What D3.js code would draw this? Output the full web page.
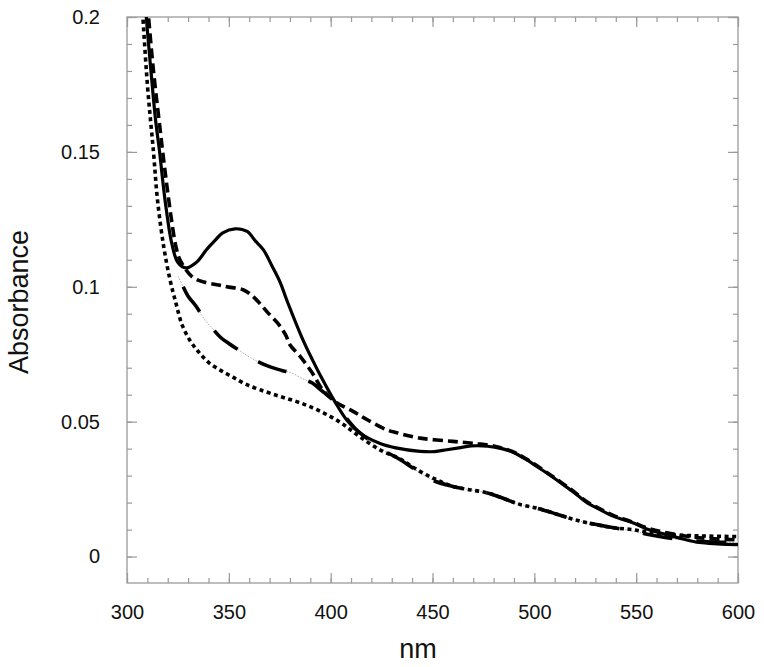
<!DOCTYPE html>
<html>
<head>
<meta charset="utf-8">
<script src="https://cdn.jsdelivr.net/npm/d3@7"></script>
<style>
  body { margin: 0; background: #fff; }
  svg { display: block; font-family: "Liberation Sans", Arial, Helvetica, sans-serif; }
</style>
</head>
<body>
<svg id="chart"></svg>
<script>
// wavelengths (nm) and absorbance
const solidNm = [308, 310, 312, 314, 316, 318.7, 322, 325, 329, 334, 339, 343, 347, 353, 359, 363, 367, 371, 375, 379, 386, 391, 396, 402, 408, 414, 424, 432, 444, 451, 457, 463, 469, 477, 484, 490, 496, 501, 507, 513, 519, 526, 532, 539, 548, 556, 565, 573, 581, 590, 600];
const solidAbs = [0.215, 0.195, 0.178, 0.162, 0.150, 0.132, 0.116, 0.109, 0.107, 0.109, 0.1137, 0.117, 0.120, 0.1215, 0.1205, 0.117, 0.1137, 0.108, 0.102, 0.094, 0.081, 0.073, 0.0656, 0.0575, 0.0505, 0.046, 0.042, 0.0403, 0.039, 0.0389, 0.0396, 0.0403, 0.041, 0.0409, 0.040, 0.0385, 0.036, 0.0335, 0.0305, 0.0273, 0.024, 0.0199, 0.0175, 0.0149, 0.0126, 0.010, 0.0081, 0.0065, 0.0052, 0.0047, 0.0044];

const dashNm = [310, 313, 316, 318, 320, 322, 324, 326, 332, 339, 345, 349, 357, 361, 365, 369, 374, 378, 380, 385, 391, 396, 402, 411, 418, 427.5, 432.5, 444, 460, 472, 480, 484, 490, 496, 501, 507, 513, 519, 526, 532, 539, 548, 556, 565, 575, 585, 600];
const dashAbs = [0.205, 0.18, 0.16, 0.147, 0.135, 0.124, 0.115, 0.11, 0.1037, 0.1015, 0.1007, 0.100, 0.0989, 0.097, 0.094, 0.0905, 0.0865, 0.082, 0.0785, 0.0742, 0.068, 0.0619, 0.0575, 0.0538, 0.0507, 0.047, 0.0459, 0.0439, 0.0427, 0.0418, 0.041, 0.0402, 0.0387, 0.0362, 0.0338, 0.0307, 0.0276, 0.0243, 0.0202, 0.0178, 0.0152, 0.0128, 0.0105, 0.0088, 0.0075, 0.0067, 0.0062];

const longNm = [325, 327.6, 330, 334, 338, 342, 346, 350, 355, 360, 365, 370, 376, 381, 386, 391, 396, 402, 407, 412, 417, 422.6, 428, 434, 444, 451, 460, 468, 477, 485, 493, 501, 509, 517, 526, 539, 548, 556, 565, 575, 585, 600];
const longAbs = [0.104, 0.1, 0.0965, 0.0927, 0.088, 0.0845, 0.0812, 0.079, 0.0765, 0.074, 0.072, 0.0704, 0.069, 0.068, 0.066, 0.0643, 0.0612, 0.0575, 0.052, 0.0475, 0.0443, 0.041, 0.0385, 0.036, 0.031, 0.028, 0.026, 0.0248, 0.0236, 0.0215, 0.0193, 0.018, 0.0162, 0.0143, 0.0125, 0.0107, 0.0095, 0.0082, 0.007, 0.006, 0.0055, 0.0052];

const dotNm = [307, 310, 313, 315, 318, 321, 324, 327, 331, 335, 340, 346, 352, 358, 365, 375, 385, 395, 405, 414, 424, 434, 444, 452, 460, 468, 477, 485, 493, 501, 509, 517, 526, 539, 548, 556, 565, 575, 585, 600];
const dotAbs = [0.21, 0.175, 0.15, 0.132, 0.115, 0.103, 0.094, 0.086, 0.080, 0.076, 0.072, 0.069, 0.0665, 0.064, 0.0619, 0.0594, 0.057, 0.0538, 0.0496, 0.0446, 0.0396, 0.0362, 0.0315, 0.0285, 0.026, 0.0248, 0.0236, 0.0215, 0.0193, 0.018, 0.0162, 0.0143, 0.0125, 0.0107, 0.010, 0.009, 0.0082, 0.0078, 0.0076, 0.0074];

const xTicks = [300, 350, 400, 450, 500, 550, 600];
const yTicks = [0, 0.05, 0.1, 0.15, 0.2];
const yTickLabels = ["0", "0.05", "0.1", "0.15", "0.2"];

const width = 764, height = 667;
const margin = { top: 17, right: 26, bottom: 84, left: 127 };
const iw = width - margin.left - margin.right;
const ih = height - margin.top - margin.bottom;

const svg = d3.select("#chart").attr("width", width).attr("height", height);
const g = svg.append("g").attr("transform", `translate(${margin.left},${margin.top})`);

const x = d3.scaleLinear().domain([300, 600]).range([0, iw]);
const y = d3.scaleLinear().domain([-0.0098, 0.2]).range([ih, 0]);

g.append("clipPath").attr("id", "clip")
  .append("rect").attr("width", iw).attr("height", ih);

const axisColor = "#9a9a9a";
const minorX = d3.range(300, 601, 10);
const minorY = d3.range(0, 0.2001, 0.01);

// mirrored inward ticks on all four sides
function styleAxis(sel) {
  sel.select(".domain").remove();
  sel.selectAll("line").attr("stroke", axisColor).attr("stroke-width", 1.2);
  sel.selectAll("text").attr("fill", "#111").attr("font-size", 20);
}

g.append("g").attr("transform", `translate(0,${ih})`)
  .call(d3.axisBottom(x).tickValues(minorX).tickSize(-5).tickFormat(""))
  .call(styleAxis);
g.append("g").attr("transform", `translate(0,${ih})`)
  .call(d3.axisBottom(x).tickValues(xTicks).tickSize(-10).tickPadding(22).tickFormat(d3.format("d")))
  .call(styleAxis);
g.append("g")
  .call(d3.axisTop(x).tickValues(minorX).tickSize(-5).tickFormat(""))
  .call(styleAxis);
g.append("g")
  .call(d3.axisTop(x).tickValues(xTicks).tickSize(-10).tickFormat(""))
  .call(styleAxis);

g.append("g")
  .call(d3.axisLeft(y).tickValues(minorY).tickSize(-5).tickFormat(""))
  .call(styleAxis);
g.append("g")
  .call(d3.axisLeft(y).tickValues(yTicks).tickSize(-10).tickPadding(27).tickFormat((d, i) => yTickLabels[i]))
  .call(styleAxis);
g.append("g").attr("transform", `translate(${iw},0)`)
  .call(d3.axisRight(y).tickValues(minorY).tickSize(-5).tickFormat(""))
  .call(styleAxis);
g.append("g").attr("transform", `translate(${iw},0)`)
  .call(d3.axisRight(y).tickValues(yTicks).tickSize(-10).tickFormat(""))
  .call(styleAxis);

g.append("rect")
  .attr("width", iw).attr("height", ih)
  .attr("fill", "none").attr("stroke", axisColor).attr("stroke-width", 1.3);

const line = d3.line()
  .x(d => x(d[0]))
  .y(d => y(d[1]))
  .curve(d3.curveCatmullRom.alpha(0.5));

const plot = g.append("g").attr("clip-path", "url(#clip)");

const series = [
  { nm: longNm, abs: longAbs, width: 1, color: "#aaa", dash: "1.5,1.5" },
  { nm: dotNm, abs: dotAbs, width: 3.6, color: "#000", dash: "4,3.5" },
  { nm: longNm.slice(1), abs: longAbs.slice(1), width: 3.6, color: "#000", dash: "30,24" },
  { nm: dashNm, abs: dashAbs, width: 3.6, color: "#000", dash: "10,5" },
  { nm: solidNm, abs: solidAbs, width: 3.2, color: "#000", dash: null }
];

plot.selectAll("path.series")
  .data(series)
  .join("path")
  .attr("class", "series")
  .attr("d", s => line(d3.zip(s.nm, s.abs)))
  .attr("fill", "none")
  .attr("stroke", s => s.color)
  .attr("stroke-width", s => s.width)
  .attr("stroke-dasharray", s => s.dash)
  .attr("stroke-linejoin", "round");

svg.append("text")
  .attr("x", 418).attr("y", 658)
  .attr("text-anchor", "middle")
  .attr("font-size", 27)
  .attr("fill", "#111")
  .text("nm");

svg.append("text")
  .attr("transform", "translate(28,302) rotate(-90)")
  .attr("text-anchor", "middle")
  .attr("font-size", 27)
  .attr("fill", "#111")
  .text("Absorbance");
</script>
</body>
</html>
